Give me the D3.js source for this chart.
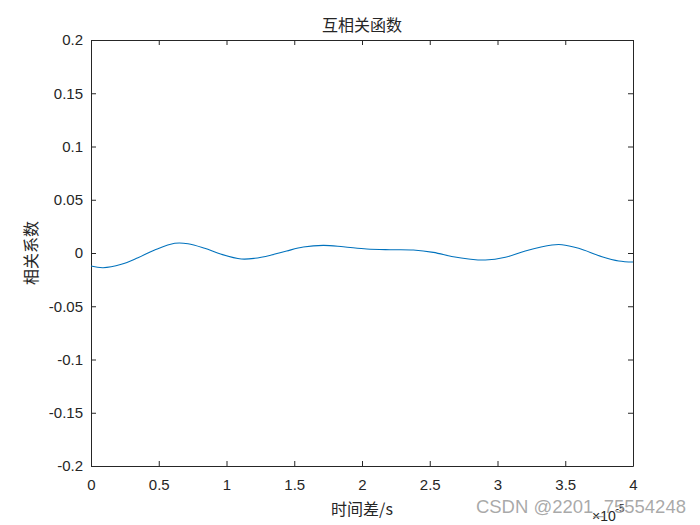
<!DOCTYPE html>
<html>
<head>
<meta charset="utf-8">
<script src="https://cdn.jsdelivr.net/npm/d3@7"></script>
<style>
  body { margin: 0; background: #fff; }
  svg { display: block; }
</style>
</head>
<body>
<div id="chart"></div>
<script>
// lag (x 10^-5 s) and cross-correlation values
const lagValues = [0, 0.089, 0.224, 0.347, 0.470, 0.618, 0.716, 0.839, 0.962, 1.109, 1.208,
  1.331, 1.444, 1.567, 1.714, 1.862, 2.035, 2.207, 2.379, 2.526, 2.674, 2.787, 2.910,
  3.058, 3.205, 3.402, 3.476, 3.599, 3.771, 3.895, 4.0];
const corrValues = [-0.0122, -0.0138, -0.0106, -0.0044, 0.0028, 0.0091, 0.0087, 0.0044, -0.0012,
  -0.0056, -0.0050, -0.0019, 0.0019, 0.0056, 0.0072, 0.0059, 0.0038, 0.0031, 0.0028,
  0.0006, -0.0035, -0.0056, -0.0066, -0.0040, 0.0019, 0.0075, 0.0078, 0.0044, -0.0035,
  -0.0075, -0.0085];
const xTicks = [0, 0.5, 1, 1.5, 2, 2.5, 3, 3.5, 4];
const yTicks = [-0.2, -0.15, -0.1, -0.05, 0, 0.05, 0.1, 0.15, 0.2];

const titleText = '互相关函数';
const xLabelText = '时间差/s';
const yLabelText = '相关系数';

const W = 700, H = 525;
const margin = { top: 40, right: 67, bottom: 59, left: 91 };
const width = W - margin.left - margin.right;
const height = H - margin.top - margin.bottom;

const svg = d3.select('#chart').append('svg')
  .attr('width', W)
  .attr('height', H);

const g = svg.append('g')
  .attr('transform', `translate(${margin.left},${margin.top})`);

const x = d3.scaleLinear().domain([0, 4]).range([0, width]);
const y = d3.scaleLinear().domain([-0.2, 0.2]).range([height, 0]);

const fmt = d => String(+d.toFixed(2));
const tickFont = 'Liberation Sans, Arial, sans-serif';
const cjkFont = '"Noto Sans CJK SC", sans-serif';

// axes: ticks point inward, MATLAB style box
const xAxis = g.append('g')
  .attr('transform', `translate(0,${height})`)
  .call(d3.axisBottom(x).tickValues(xTicks).tickFormat(fmt).tickSizeInner(-5).tickSizeOuter(0).tickPadding(13));
const xAxisTop = g.append('g')
  .call(d3.axisTop(x).tickValues(xTicks).tickFormat('').tickSizeInner(-5).tickSizeOuter(0));
const yAxis = g.append('g')
  .call(d3.axisLeft(y).tickValues(yTicks).tickFormat(fmt).tickSizeInner(-5).tickSizeOuter(0).tickPadding(8));
const yAxisRight = g.append('g')
  .attr('transform', `translate(${width},0)`)
  .call(d3.axisRight(y).tickValues(yTicks).tickFormat('').tickSizeInner(-5).tickSizeOuter(0));

[xAxis, xAxisTop, yAxis, yAxisRight].forEach(a => {
  a.select('.domain').attr('stroke', '#262626').attr('stroke-width', 1);
  a.selectAll('.tick line').attr('stroke', '#262626');
  a.selectAll('text')
    .attr('fill', '#262626')
    .style('font-family', tickFont)
    .style('font-size', '15px');
});

// correlation curve
const line = d3.line()
  .x((d, i) => x(lagValues[i]))
  .y(d => y(d))
  .curve(d3.curveCatmullRom.alpha(0.5));

g.append('path')
  .datum(corrValues)
  .attr('fill', 'none')
  .attr('stroke', '#0072BD')
  .attr('stroke-width', 1.1)
  .attr('d', line);

// title and labels
svg.append('text')
  .attr('x', margin.left + width / 2)
  .attr('y', 31)
  .attr('text-anchor', 'middle')
  .style('font-family', cjkFont)
  .style('font-size', '16px')
  .attr('fill', '#262626')
  .text(titleText);

svg.append('text')
  .attr('x', margin.left + width / 2)
  .attr('y', 515)
  .attr('text-anchor', 'middle')
  .style('font-family', cjkFont)
  .style('font-size', '16px')
  .attr('fill', '#262626')
  .text(xLabelText);

svg.append('text')
  .attr('transform', `translate(37,${margin.top + height / 2}) rotate(-90)`)
  .attr('text-anchor', 'middle')
  .style('font-family', cjkFont)
  .style('font-size', '16px')
  .attr('fill', '#262626')
  .text(yLabelText);

// axis exponent
const expo = svg.append('text')
  .attr('x', 592)
  .attr('y', 521)
  .style('font-family', tickFont)
  .style('font-size', '14px')
  .attr('fill', '#262626');
expo.append('tspan').text('×10');
expo.append('tspan').attr('dy', -9).style('font-size', '10px').text('-5');

// site watermark seen on the picture
svg.append('text')
  .attr('x', 686)
  .attr('y', 513)
  .attr('text-anchor', 'end')
  .style('font-family', tickFont)
  .style('font-size', '18.5px')
  .attr('fill', '#9a9a9a')
  .attr('fill-opacity', 0.85)
  .text('CSDN @2201_75554248');
</script>
</body>
</html>
